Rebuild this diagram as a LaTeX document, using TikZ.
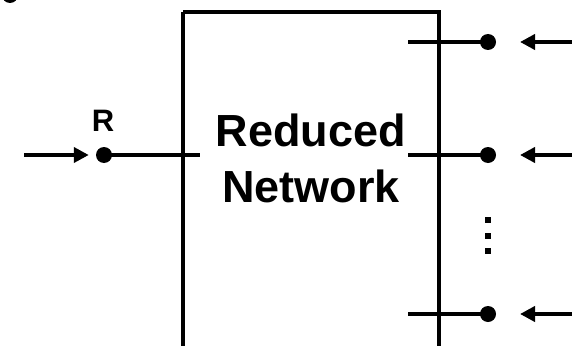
\documentclass[tikz,border=0pt]{standalone}
\usepackage{fontspec}
\setmainfont{Liberation Sans}
\usetikzlibrary{arrows.meta}
\begin{document}
\begin{tikzpicture}[x=1pt,y=1pt,
  wire/.style={line width=4.5pt},
  port/.style={circle,fill=black,inner sep=0pt,minimum size=16pt},
  feed/.style={line width=4.5pt,-{Triangle[length=15pt,width=15pt]}},
  vdot/.style={fill=black,inner sep=0pt,minimum size=6.5pt}]
  \useasboundingbox (0,0) rectangle (572,-345);
  \clip (0,0) rectangle (572,-345);

  % reduced network block (open below the frame)
  \draw[wire] (183,-12) -- (439,-12) -- (439,-360);
  \draw[wire] (183,-12) -- (183,-360);
  \node[font=\bfseries\fontsize{45}{56}\selectfont,align=center] (net) at (311,-158) {Reduced\\Network};

  % partially visible terminal at the corner
  \node[port] (corner) at (10,5) {};

  % reference terminal R
  \node[port] (r) at (104,-155) {};
  \node[font=\bfseries\fontsize{31}{32}\selectfont] (rlab) at (103,-121) {R};
  \coordinate (rin) at (24,-155);
  \coordinate (rend) at (200,-155);
  \draw[feed] (rin) -- ([xshift=-7pt]r.west);
  \draw[wire] (r.center) -- (rend);

  % output terminals
  \foreach \n/\y in {a/-42,b/-155,c/-314}{
    \node[port] (p\n) at (488,\y) {};
    \coordinate (s\n) at (408,\y);
    \coordinate (e\n) at (580,\y);
    \draw[wire] (s\n) -- (p\n.center);
    \draw[feed] (e\n) -- (520,\y);
  }

  % vertical ellipsis
  \node[vdot] (d1) at (488,-220) {};
  \node[vdot] (d2) at (488,-236) {};
  \node[vdot] (d3) at (488,-251) {};
\end{tikzpicture}
\end{document}
